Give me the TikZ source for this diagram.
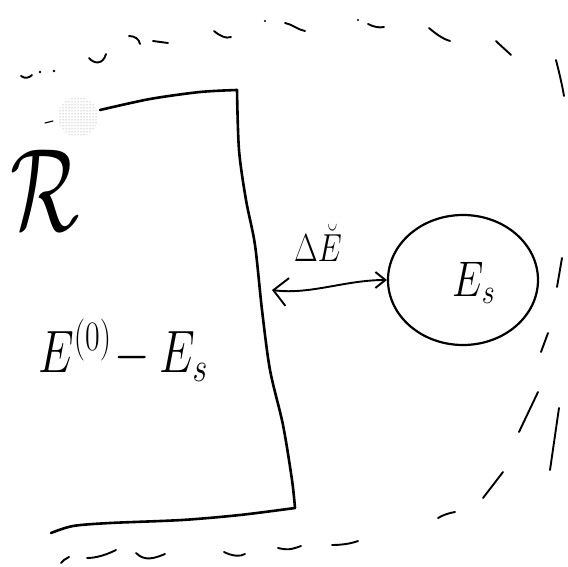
\RequirePackage{fix-cm}
\documentclass[tikz,border=0pt]{standalone}
\usepackage{amsmath}
\usepackage{graphicx}
\usetikzlibrary{arrows.meta,patterns,shapes.geometric}
\begin{document}
\begin{tikzpicture}[x=1pt,y=-1pt,
  wallline/.style={line width=2.6pt,line cap=round,line join=round},
  dsh/.style={line width=1.9pt,line cap=round},
  lbl/.style={inner sep=0pt,outer sep=0pt}]
\useasboundingbox (0,0) rectangle (568,567);
% stippled patch
\fill[pattern=dots,pattern color=gray] (78,117) circle (20);
\draw[line width=1.2pt,line cap=round] (45,123) -- (53,121);
% box (region R)
\draw[wallline] plot[smooth] coordinates {(100,110) (150,99) (200,92) (237,90)};
\draw[wallline] plot[smooth] coordinates {(237,90) (239,150) (246,200) (255,245) (262,310) (270,370) (283,425) (292,480) (295,508)};
\draw[wallline] plot[smooth] coordinates {(295,508) (240,515) (182,520) (110,523) (73,526) (51,533)};
% labels
\node[lbl] (R) at (45,190) {\scalebox{0.68}[0.98]{\fontsize{120}{130}\selectfont$\mathcal{R}$}};
\node[lbl] (E0) at (123,350) {\scalebox{0.8}[1.05]{\fontsize{57}{62}\selectfont$E^{(0)}\!-E_s$}};
% circle Es
\node[draw,ellipse,line width=2.2pt,minimum width=150pt,minimum height=130pt] (es) at (463,280) {};
\node[lbl] (esl) at (474,283) {\scalebox{0.8}[1]{\fontsize{50}{55}\selectfont$E_s$}};
% arrow
\coordinate (wallpt) at (272,290);
\draw[line width=1.9pt,line cap=round,{Straight Barb[length=14pt,width=28pt]}-{Straight Barb[length=10pt,width=16pt]}] (wallpt) .. controls (310,295) and (345,280) .. (es.west);
\node[lbl] (de) at (318,243) {\scalebox{0.9}[1.15]{\fontsize{34}{38}\selectfont$\Delta\breve{E}$}};
% dashed outer boundary - top
\draw[dsh] (21,76) .. controls (25,79) and (29,78) .. (32,75);
\fill (40,72) circle (1.3);
\fill (54,71) circle (1.3);
\draw[dsh] (89,58) .. controls (94,64) and (103,65) .. (106,54);
\draw[dsh] (129,36) .. controls (135,36) and (139,39) .. (140,44);
\draw[dsh] (153,41) -- (168,43);
\draw[dsh] (214,31) .. controls (220,36) and (226,39) .. (231,37);
\fill (265,21) circle (1.1);
\draw[dsh] (285,23) .. controls (292,24) and (298,30) .. (305,31);
\fill (358,20) circle (1.1);
\draw[dsh] (368,24) .. controls (374,27) and (379,28) .. (384,27);
\draw[dsh] (429,28) .. controls (436,34) and (443,39) .. (450,41);
\draw[dsh] (496,41) .. controls (502,47) and (507,51) .. (511,55);
\draw[dsh] (556,60) .. controls (559,72) and (562,84) .. (564,96);
% right
\draw[dsh] (562,258) -- (557,287);
\draw[dsh] (548,333) -- (541,352);
\draw[dsh] (538,392) -- (519,432);
\draw[dsh] (559,408) -- (550,470);
\draw[dsh] (503,472) -- (483,498);
\draw[dsh] (455,512) .. controls (449,513) and (443,515) .. (438,518);
% bottom
\draw[dsh] (358,541) .. controls (350,544) and (340,545) .. (332,545);
\draw[dsh] (301,546) .. controls (295,548) and (290,551) .. (278,548);
\draw[dsh] (245,554) .. controls (240,557) and (232,556) .. (224,552);
\draw[dsh] (165,554) .. controls (155,558) and (145,562) .. (136,553);
\draw[dsh] (116,550) .. controls (106,555) and (96,558) .. (87,558);
\draw[dsh] (61,563) -- (64,560) -- (69,557);
\end{tikzpicture}
\end{document}
